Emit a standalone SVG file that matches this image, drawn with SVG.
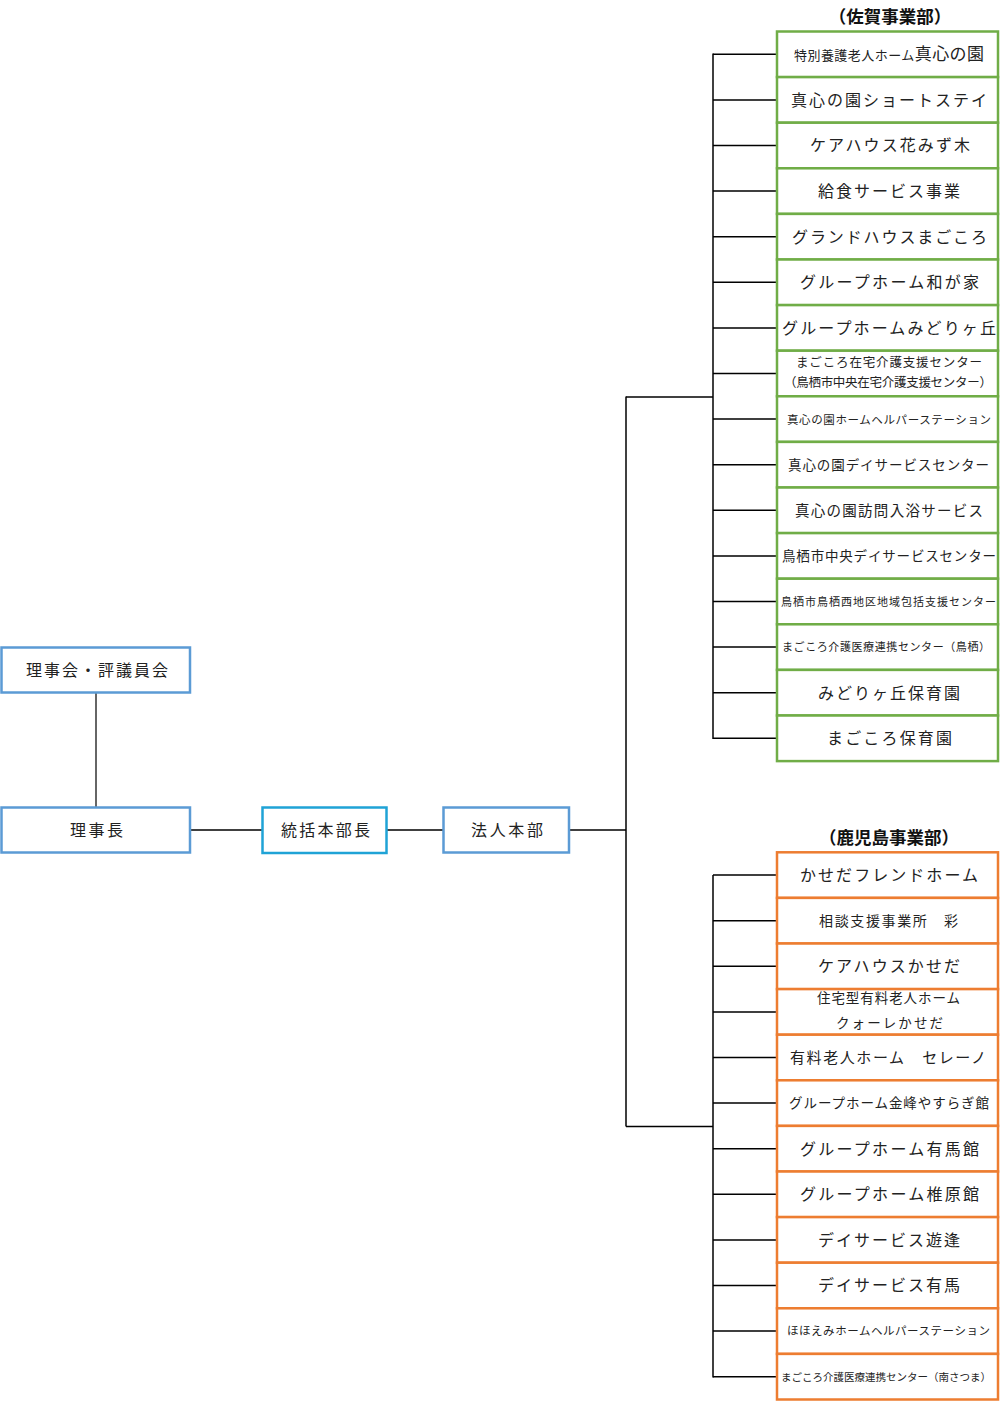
<svg xmlns="http://www.w3.org/2000/svg" width="1001" height="1402" viewBox="0 0 1001 1402">
<style>
text{font-family:"Noto Sans CJK JP","Noto Sans CJK SC",sans-serif;fill:#222;text-anchor:middle}
.t16{font-size:16px}
.hd{font-size:17.5px;font-weight:bold;fill:#111}
.blue{fill:#fff;stroke:#5b9bd5;stroke-width:2.5}
.cyan{fill:#fff;stroke:#1fa3d6;stroke-width:2.5}
.green{fill:#fff;stroke:#70ad47;stroke-width:2.5}
.orange{fill:#fff;stroke:#ed7d31;stroke-width:2.5}
.ln{stroke:#000;stroke-width:1.5;fill:none}
</style>
<rect width="1001" height="1402" fill="#fff"/>
<g id="connectors">
<line class="ln" x1="96" y1="692" x2="96" y2="807" style="stroke:#333"/>
<line class="ln" x1="190" y1="830" x2="262" y2="830"/>
<line class="ln" x1="386" y1="830" x2="443" y2="830"/>
<line class="ln" x1="569" y1="830" x2="626" y2="830"/>
<line class="ln" x1="626" y1="396.5" x2="626" y2="1126.5"/>
<line class="ln" x1="626" y1="397" x2="713" y2="397"/>
<line class="ln" x1="626" y1="1126.5" x2="713" y2="1126.5"/>
<line class="ln" x1="713" y1="53.5" x2="713" y2="739"/>
<line class="ln" x1="713" y1="875" x2="713" y2="1377.5"/>
<path class="ln" d="M713 54.3H777M713 99.9H777M713 145.5H777M713 191.1H777M713 236.7H777M713 282.3H777M713 327.9H777M713 373.5H777M713 419.1H777M713 464.7H777M713 510.3H777M713 555.9H777M713 601.5H777M713 647.1H777M713 692.7H777M713 738.3H777"/>
<path class="ln" d="M713 875.1H777M713 920.7H777M713 966.3H777M713 1011.9H777M713 1057.5H777M713 1103.1H777M713 1148.7H777M713 1194.3H777M713 1239.9H777M713 1285.5H777M713 1331.1H777M713 1376.7H777"/>
</g>
<g id="n-board"><rect class="blue" x="1.5" y="647.5" width="188.5" height="45"/><text class="t16" x="97" y="675.5" textLength="142" lengthAdjust="spacing">理事会・評議員会</text></g>
<g id="n-chair"><rect class="blue" x="1.5" y="807.5" width="188.5" height="45"/><text class="t16" x="96.5" y="835.5" textLength="53" lengthAdjust="spacing">理事長</text></g>
<g id="n-general"><rect class="cyan" x="262.5" y="807.5" width="124" height="45.5"/><text class="t16" x="325.5" y="835.5" textLength="89" lengthAdjust="spacing">統括本部長</text></g>
<g id="n-hq"><rect class="blue" x="443.5" y="807.5" width="125.5" height="45"/><text class="t16" x="507" y="835.5" textLength="72" lengthAdjust="spacing">法人本部</text></g>
<g id="h-saga"><text class="hd" x="890" y="22.5">（佐賀事業部）</text></g>
<g id="h-kago"><text class="hd" x="889" y="843.5">（鹿児島事業部）</text></g>
<g id="saga">
<g id="s1"><rect class="green" x="777" y="31.5" width="221" height="45.6"/><text x="889" y="60" style="font-size:13px" textLength="190" lengthAdjust="spacing">特別養護老人ホーム<tspan style="font-size:17px">真心の園</tspan></text></g>
<g id="s2"><rect class="green" x="777" y="77.1" width="221" height="45.6"/><text class="t16" x="889" y="105.5" textLength="196" lengthAdjust="spacing">真心の園ショートステイ</text></g>
<g id="s3"><rect class="green" x="777" y="122.7" width="221" height="45.6"/><text class="t16" x="890" y="151" textLength="160" lengthAdjust="spacing">ケアハウス花みず木</text></g>
<g id="s4"><rect class="green" x="777" y="168.3" width="221" height="45.6"/><text class="t16" x="889" y="196.5" textLength="142" lengthAdjust="spacing">給食サービス事業</text></g>
<g id="s5"><rect class="green" x="777" y="213.9" width="221" height="45.6"/><text class="t16" x="889.5" y="242.5" textLength="195" lengthAdjust="spacing">グランドハウスまごころ</text></g>
<g id="s6"><rect class="green" x="777" y="259.5" width="221" height="45.6"/><text class="t16" x="889.5" y="288" textLength="179" lengthAdjust="spacing">グループホーム和が家</text></g>
<g id="s7"><rect class="green" x="777" y="305.1" width="221" height="45.6"/><text class="t16" x="889" y="333.5" textLength="214" lengthAdjust="spacing">グループホームみどりヶ丘</text></g>
<g id="s8"><rect class="green" x="777" y="350.7" width="221" height="45.6"/><text x="889" y="366.5" style="font-size:12.5px" textLength="186" lengthAdjust="spacing">まごころ在宅介護支援センター</text><text x="888" y="387" style="font-size:12.5px" textLength="208" lengthAdjust="spacing">（鳥栖市中央在宅介護支援センター）</text></g>
<g id="s9"><rect class="green" x="777" y="396.3" width="221" height="45.6"/><text x="889" y="423.5" style="font-size:11.5px" textLength="204" lengthAdjust="spacing">真心の園ホームヘルパーステーション</text></g>
<g id="s10"><rect class="green" x="777" y="441.9" width="221" height="45.6"/><text x="888.5" y="469.5" style="font-size:13.5px" textLength="201" lengthAdjust="spacing">真心の園デイサービスセンター</text></g>
<g id="s11"><rect class="green" x="777" y="487.5" width="221" height="45.6"/><text x="889" y="515.5" style="font-size:14.5px" textLength="188" lengthAdjust="spacing">真心の園訪問入浴サービス</text></g>
<g id="s12"><rect class="green" x="777" y="533.1" width="221" height="45.6"/><text x="889" y="561" style="font-size:13.5px" textLength="214" lengthAdjust="spacing">鳥栖市中央デイサービスセンター</text></g>
<g id="s13"><rect class="green" x="777" y="578.7" width="221" height="45.6"/><text x="888.5" y="605.5" style="font-size:11px" textLength="215" lengthAdjust="spacing">鳥栖市鳥栖西地区地域包括支援センター</text></g>
<g id="s14"><rect class="green" x="777" y="624.3" width="221" height="45.6"/><text x="886" y="651" style="font-size:11px" textLength="208" lengthAdjust="spacing">まごころ介護医療連携センター（鳥栖）</text></g>
<g id="s15"><rect class="green" x="777" y="669.9" width="221" height="45.6"/><text class="t16" x="889" y="698.5" textLength="142" lengthAdjust="spacing">みどりヶ丘保育園</text></g>
<g id="s16"><rect class="green" x="777" y="715.5" width="221" height="45.6"/><text class="t16" x="889.5" y="744" textLength="125" lengthAdjust="spacing">まごころ保育園</text></g>
</g>
<g id="kagoshima">
<g id="k1"><rect class="orange" x="777" y="852.3" width="221" height="45.6"/><text class="t16" x="889" y="881" textLength="178" lengthAdjust="spacing">かせだフレンドホーム</text></g>
<g id="k2"><rect class="orange" x="777" y="897.9" width="221" height="45.6"/><text x="888.5" y="925.5" style="font-size:14px" textLength="139" lengthAdjust="spacing">相談支援事業所　彩</text></g>
<g id="k3"><rect class="orange" x="777" y="943.5" width="221" height="45.6"/><text class="t16" x="889" y="972" textLength="142" lengthAdjust="spacing">ケアハウスかせだ</text></g>
<g id="k4"><rect class="orange" x="777" y="989.1" width="221" height="45.6"/><text x="888.5" y="1003" style="font-size:13.5px" textLength="143" lengthAdjust="spacing">住宅型有料老人ホーム</text><text x="889.5" y="1028" style="font-size:13.5px" textLength="107" lengthAdjust="spacing">クォーレかせだ</text></g>
<g id="k5"><rect class="orange" x="777" y="1034.7" width="221" height="45.6"/><text x="888" y="1063" style="font-size:15px" textLength="196" lengthAdjust="spacing">有料老人ホーム　セレーノ</text></g>
<g id="k6"><rect class="orange" x="777" y="1080.3" width="221" height="45.6"/><text x="889" y="1108" style="font-size:13.5px" textLength="200" lengthAdjust="spacing">グループホーム金峰やすらぎ館</text></g>
<g id="k7"><rect class="orange" x="777" y="1125.9" width="221" height="45.6"/><text class="t16" x="889.5" y="1154.5" textLength="179" lengthAdjust="spacing">グループホーム有馬館</text></g>
<g id="k8"><rect class="orange" x="777" y="1171.5" width="221" height="45.6"/><text class="t16" x="889.5" y="1200" textLength="179" lengthAdjust="spacing">グループホーム椎原館</text></g>
<g id="k9"><rect class="orange" x="777" y="1217.1" width="221" height="45.6"/><text class="t16" x="889" y="1245.5" textLength="142" lengthAdjust="spacing">デイサービス遊逢</text></g>
<g id="k10"><rect class="orange" x="777" y="1262.7" width="221" height="45.6"/><text class="t16" x="889" y="1291" textLength="142" lengthAdjust="spacing">デイサービス有馬</text></g>
<g id="k11"><rect class="orange" x="777" y="1308.3" width="221" height="45.6"/><text x="888.5" y="1335" style="font-size:11.5px" textLength="203" lengthAdjust="spacing">ほほえみホームヘルパーステーション</text></g>
<g id="k12"><rect class="orange" x="777" y="1353.9" width="221" height="45.6"/><text x="886" y="1380.5" style="font-size:10.5px" textLength="210" lengthAdjust="spacing">まごころ介護医療連携センター（南さつま）</text></g>
</g>
</svg>
